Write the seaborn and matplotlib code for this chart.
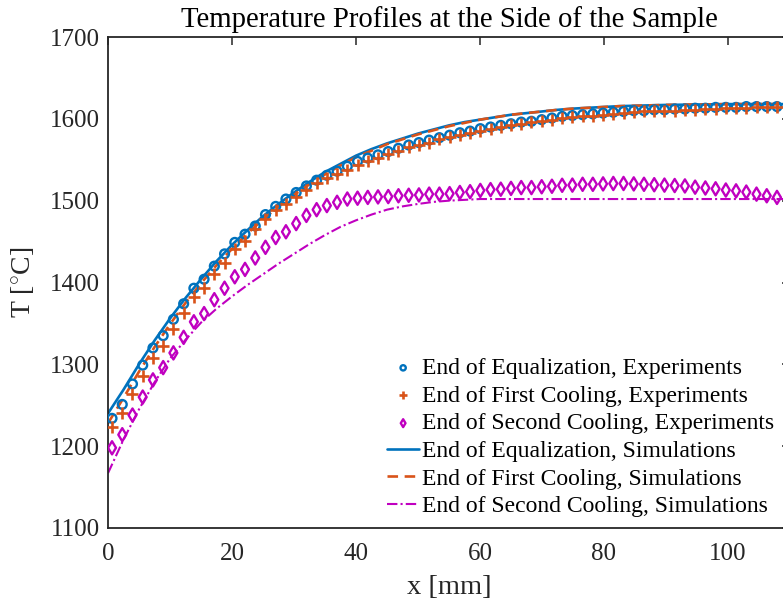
import numpy as np
import pandas as pd
import matplotlib
matplotlib.use("Agg")
import matplotlib.pyplot as plt
import seaborn as sns

# ---------------- data ----------------
x_exp = [0.65, 2.3, 3.95, 5.6, 7.25, 8.9, 10.55, 12.2, 13.85, 15.5, 17.15, 18.8, 20.45, 22.1,
         23.75, 25.4, 27.05, 28.7, 30.35, 32.0, 33.65, 35.3, 36.95, 38.6, 40.25, 41.9, 43.55,
         45.2, 46.85, 48.5, 50.15, 51.8, 53.45, 55.1, 56.75, 58.4, 60.05, 61.7, 63.35, 65.0,
         66.65, 68.3, 69.95, 71.6, 73.25, 74.9, 76.55, 78.2, 79.85, 81.5, 83.15, 84.8, 86.45,
         88.1, 89.75, 91.4, 93.05, 94.7, 96.35, 98.0, 99.65, 101.3, 102.95, 104.6, 106.25, 107.9]

T_eq_exp = [1234, 1251, 1276, 1299, 1320, 1335, 1355, 1374, 1393, 1404, 1420, 1435, 1449, 1459,
            1469, 1483, 1493, 1502, 1510, 1518, 1525, 1531, 1536, 1542, 1548, 1552, 1556,
            1560, 1564, 1568, 1571, 1574, 1577, 1580, 1583, 1585, 1588, 1590, 1592, 1594,
            1596, 1597, 1599, 1601, 1603, 1604, 1605, 1606, 1607, 1608, 1609, 1610, 1610,
            1611, 1611, 1612, 1612, 1613, 1613, 1614, 1614, 1614, 1615, 1615, 1615, 1615]

T_c1_exp = [1223, 1240, 1264, 1286, 1308, 1322, 1343, 1363, 1382, 1393, 1410, 1424, 1441, 1451,
            1465, 1477, 1488, 1496, 1505, 1513, 1521, 1528, 1532, 1537, 1543, 1548, 1552,
            1557, 1561, 1565, 1568, 1571, 1575, 1578, 1580, 1583, 1585, 1588, 1590, 1592,
            1594, 1596, 1597, 1599, 1601, 1602, 1603, 1604, 1605, 1606, 1607, 1608, 1609,
            1609, 1610, 1610, 1611, 1611, 1612, 1612, 1613, 1613, 1613, 1614, 1614, 1614]

T_c2_exp = [1198, 1214, 1238, 1260, 1281, 1296, 1314, 1333, 1352, 1362, 1379, 1393, 1407, 1416,
            1430, 1443, 1455, 1462, 1472, 1482, 1489, 1494, 1498, 1502, 1503, 1504, 1504.6,
            1505, 1506, 1506.6, 1507, 1508, 1508, 1508.6, 1510, 1511, 1512.5, 1513.5, 1514, 1515,
            1516, 1516, 1517, 1517.6, 1518.8, 1519, 1520, 1520, 1520.5, 1521, 1521, 1520.5, 1520,
            1519.5, 1519, 1518.5, 1518, 1516.5, 1515.5, 1514.5, 1513, 1512, 1510.5, 1508, 1506, 1504]

x_sim = [0, 2.5, 5, 7.5, 10, 12.5, 15, 17.5, 20, 22.5, 25, 27.5, 30, 32.5, 35, 37.5, 40,
         42.5, 45, 47.5, 50, 52.5, 55, 57.5, 60, 62.5, 65, 67.5, 70, 72.5, 75, 77.5, 80,
         82.5, 85, 87.5, 90, 95, 100, 105, 110]

T_eq_sim = [1240, 1269, 1300, 1329, 1356, 1381, 1404, 1426, 1446, 1464, 1481, 1496, 1510,
            1523, 1535, 1545, 1555, 1563, 1570, 1576, 1582, 1587, 1592, 1596, 1599, 1602,
            1605, 1607, 1609, 1611, 1612.5, 1613.5, 1614.5, 1615.5, 1616, 1616.5, 1617,
            1617.5, 1618, 1618, 1618]

T_c1_sim = [1228, 1259, 1291, 1321, 1349, 1375, 1399, 1421, 1441, 1460, 1477, 1493, 1507,
            1520, 1532, 1543, 1553, 1561, 1569, 1575, 1581, 1586, 1591, 1595, 1599, 1602,
            1605, 1607, 1609, 1611, 1612.5, 1613.5, 1614.5, 1615.5, 1616, 1616.5, 1617,
            1617.5, 1618, 1618, 1618]

T_c2_sim = [1167, 1208, 1245, 1278, 1307, 1330, 1351, 1368, 1383, 1397, 1410, 1423, 1435,
            1447, 1458, 1468, 1476, 1483, 1489, 1493, 1496, 1498.5, 1500, 1501, 1502, 1502,
            1502, 1502, 1502, 1502, 1502, 1502, 1502, 1502, 1502, 1502, 1502, 1502, 1502,
            1502, 1502]

labels = ["End of Equalization, Experiments",
          "End of First Cooling, Experiments",
          "End of Second Cooling, Experiments",
          "End of Equalization, Simulations",
          "End of First Cooling, Simulations",
          "End of Second Cooling, Simulations"]

x_ticks = [0, 20, 40, 60, 80, 100]
y_ticks = [1100, 1200, 1300, 1400, 1500, 1600, 1700]

# ---------------- style ----------------
sns.set_theme(style="white")
plt.rcParams["font.family"] = ["Liberation Serif", "DejaVu Serif"]
plt.rcParams["mathtext.fontset"] = "custom"
plt.rcParams["mathtext.rm"] = "Liberation Serif"
plt.rcParams["mathtext.it"] = "Liberation Serif:italic"

blue = "#0072BD"
orange = "#D95319"
mag = "#C000C0"
axc = "#262626"

fig = plt.figure(figsize=(7.83, 6.04), dpi=100)
ax = fig.add_axes([108 / 783, 76 / 604, 682 / 783, 491 / 604])

df_exp = pd.DataFrame({"x": x_exp, "eq": T_eq_exp, "c1": T_c1_exp, "c2": T_c2_exp})
df_sim = pd.DataFrame({"x": x_sim, "eq": T_eq_sim, "c1": T_c1_sim, "c2": T_c2_sim})

sns.scatterplot(data=df_exp, x="x", y="eq", ax=ax, marker="o", s=40, facecolors="none",
                edgecolor=blue, linewidth=1.7, label=labels[0], zorder=3)
sns.scatterplot(data=df_exp, x="x", y="c1", ax=ax, marker="+", s=80, color=orange,
                linewidth=1.9, label=labels[1], zorder=3)
sns.scatterplot(data=df_exp, x="x", y="c2", ax=ax, marker="d", s=45, facecolors="none",
                edgecolor=mag, linewidth=1.7, label=labels[2], zorder=3)
sns.lineplot(data=df_sim, x="x", y="eq", ax=ax, color=blue, linewidth=1.9,
             label=labels[3], zorder=2)
sns.lineplot(data=df_sim, x="x", y="c1", ax=ax, color=orange, linewidth=1.9,
             linestyle=(0, (4, 2.5)), label=labels[4], zorder=2)
sns.lineplot(data=df_sim, x="x", y="c2", ax=ax, color=mag, linewidth=1.5,
             linestyle=(0, (5, 1.5, 1, 1.5)), label=labels[5], zorder=2)

ax.set_xlim(0, 110)
ax.set_ylim(1100, 1700)
ax.set_xticks(x_ticks)
ax.set_yticks(y_ticks)
ax.tick_params(direction="in", length=6, width=1.1, color=axc, labelcolor=axc,
               labelsize=18, top=True, right=True)
ax.tick_params(axis="y", pad=6)
ax.tick_params(axis="x", pad=11)
for sp in ax.spines.values():
    sp.set_visible(True)
    sp.set_color(axc)
    sp.set_linewidth(1.3)

ax.set_title("Temperature Profiles at the Side of the Sample", fontsize=20.7,
             color="black", pad=7)
ax.set_xlabel("x [mm]", fontsize=20.5, color=axc, labelpad=7)
ax.set_ylabel(r"T [$^{\circ}$C]", fontsize=20, color=axc, labelpad=10)

leg = ax.legend(loc="lower right", bbox_to_anchor=(1.001, -0.012), frameon=False,
                fontsize=17, handlelength=1.36, handletextpad=0.12,
                labelspacing=0.26, borderaxespad=0.3, markerscale=0.6)
for t in leg.get_texts():
    t.set_color("black")

fig.savefig("out.png", dpi=100)
